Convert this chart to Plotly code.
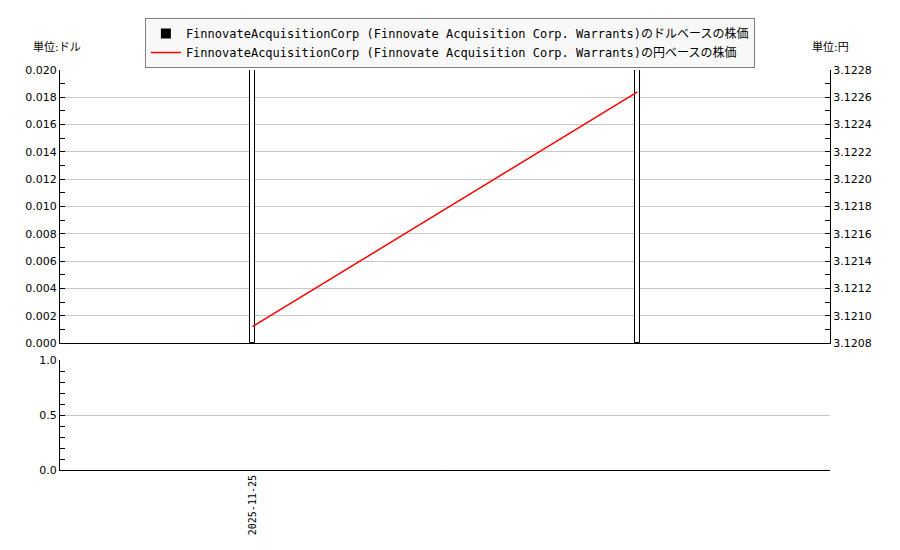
import plotly.graph_objects as go
from plotly.subplots import make_subplots

# ── DATA ──
dates = ["2025-11-25", "2025-11-26"]
usd_price = [0.0200, 0.0200]
jpy_price = [3.12092, 3.12264]
volume = [0, 0]

name_usd = "FinnovateAcquisitionCorp (Finnovate Acquisition Corp. Warrants)のドルベースの株価"
name_jpy = "FinnovateAcquisitionCorp (Finnovate Acquisition Corp. Warrants)の円ベースの株価"

GRID = "#c8c8c8"
TICK_FONT = dict(family="DejaVu Sans, sans-serif", size=11, color="#000000")

fig = make_subplots(
    rows=2, cols=1, shared_xaxes=False,
    specs=[[{"secondary_y": True}], [{}]],
    vertical_spacing=0.0,
)

# dollar bars (white fill, black outline)
fig.add_trace(go.Bar(
    x=dates, y=usd_price, width=1.1e6,
    marker=dict(color="white", line=dict(color="black", width=1)),
    showlegend=False, name=name_usd,
), row=1, col=1, secondary_y=False)

# legend proxy for the bars
fig.add_trace(go.Scatter(
    x=[None], y=[None], mode="markers", name=name_usd,
    marker=dict(symbol="square", color="black", size=10),
), row=1, col=1, secondary_y=False)

# yen line
fig.add_trace(go.Scatter(
    x=dates, y=jpy_price, mode="lines", name=name_jpy,
    line=dict(color="#ff0000", width=1.5),
), row=1, col=1, secondary_y=True)

# volume panel (empty)
fig.add_trace(go.Bar(
    x=dates, y=volume, marker_color="black", showlegend=False,
), row=2, col=1)

xrange = ["2025-11-24 12:00", "2025-11-26 12:00"]
axis_common = dict(
    showline=True, linecolor="black", linewidth=1,
    ticks="inside", ticklen=5, tickcolor="black",
    gridcolor=GRID, tickfont=TICK_FONT, zeroline=False,
)

# page body adds an 8px offset, so margins compensate
fig.update_layout(
    width=900, height=550,
    paper_bgcolor="white", plot_bgcolor="white",
    margin=dict(l=52, r=78, t=62, b=88, autoexpand=False),
    bargap=0,
    font=dict(family="DejaVu Sans, Noto Sans CJK JP, sans-serif", size=11, color="black"),
    legend=dict(
        xref="container", yref="container",
        x=0.491, xanchor="center", y=0.9818, yanchor="top",
        bgcolor="#f8f8f8", bordercolor="#808080", borderwidth=1,
        font=dict(family="DejaVu Sans Mono, Noto Sans CJK JP, monospace", size=12, color="black"),
        tracegroupgap=0, itemwidth=30,
    ),
    xaxis=dict(
        domain=[0, 1], range=xrange, type="date",
        showline=True, linecolor="black", showgrid=False,
        showticklabels=False, ticks="",
    ),
    yaxis=dict(
        domain=[0.3175, 1], range=[0, 0.02], dtick=0.002, tickformat=".3f",
        minor=dict(dtick=0.001, ticks="inside", ticklen=5, tickcolor="black", showgrid=False),
        **axis_common,
    ),
    yaxis2=dict(
        range=[3.1208, 3.1228], dtick=0.0002, tickformat=".4f",
        showgrid=False, side="right", overlaying="y",
        minor=dict(dtick=0.0001, ticks="inside", ticklen=5, tickcolor="black"),
        **{k: v for k, v in axis_common.items() if k != "gridcolor"},
    ),
    xaxis2=dict(
        domain=[0, 1], range=xrange, type="date",
        showline=True, linecolor="black", showgrid=False,
        tickvals=[dates[0]], ticktext=[dates[0]], tickangle=-90,
        ticks="", tickfont=dict(family="DejaVu Sans Mono, monospace", size=10, color="black"),
    ),
    yaxis3=dict(
        domain=[0, 0.275], range=[0, 1], dtick=0.5, tickformat=".1f",
        minor=dict(dtick=0.1, ticks="inside", ticklen=5, tickcolor="black", showgrid=False),
        **axis_common,
    ),
)

fig.add_annotation(text="単位:ドル", xref="paper", yref="paper", x=-0.004, y=1.057,
                   xanchor="center", yanchor="middle", showarrow=False,
                   font=dict(size=11, color="black"))
fig.add_annotation(text="単位:円", xref="paper", yref="paper", x=1.001, y=1.057,
                   xanchor="center", yanchor="middle", showarrow=False,
                   font=dict(size=11, color="black"))

fig.write_html("out.html")
